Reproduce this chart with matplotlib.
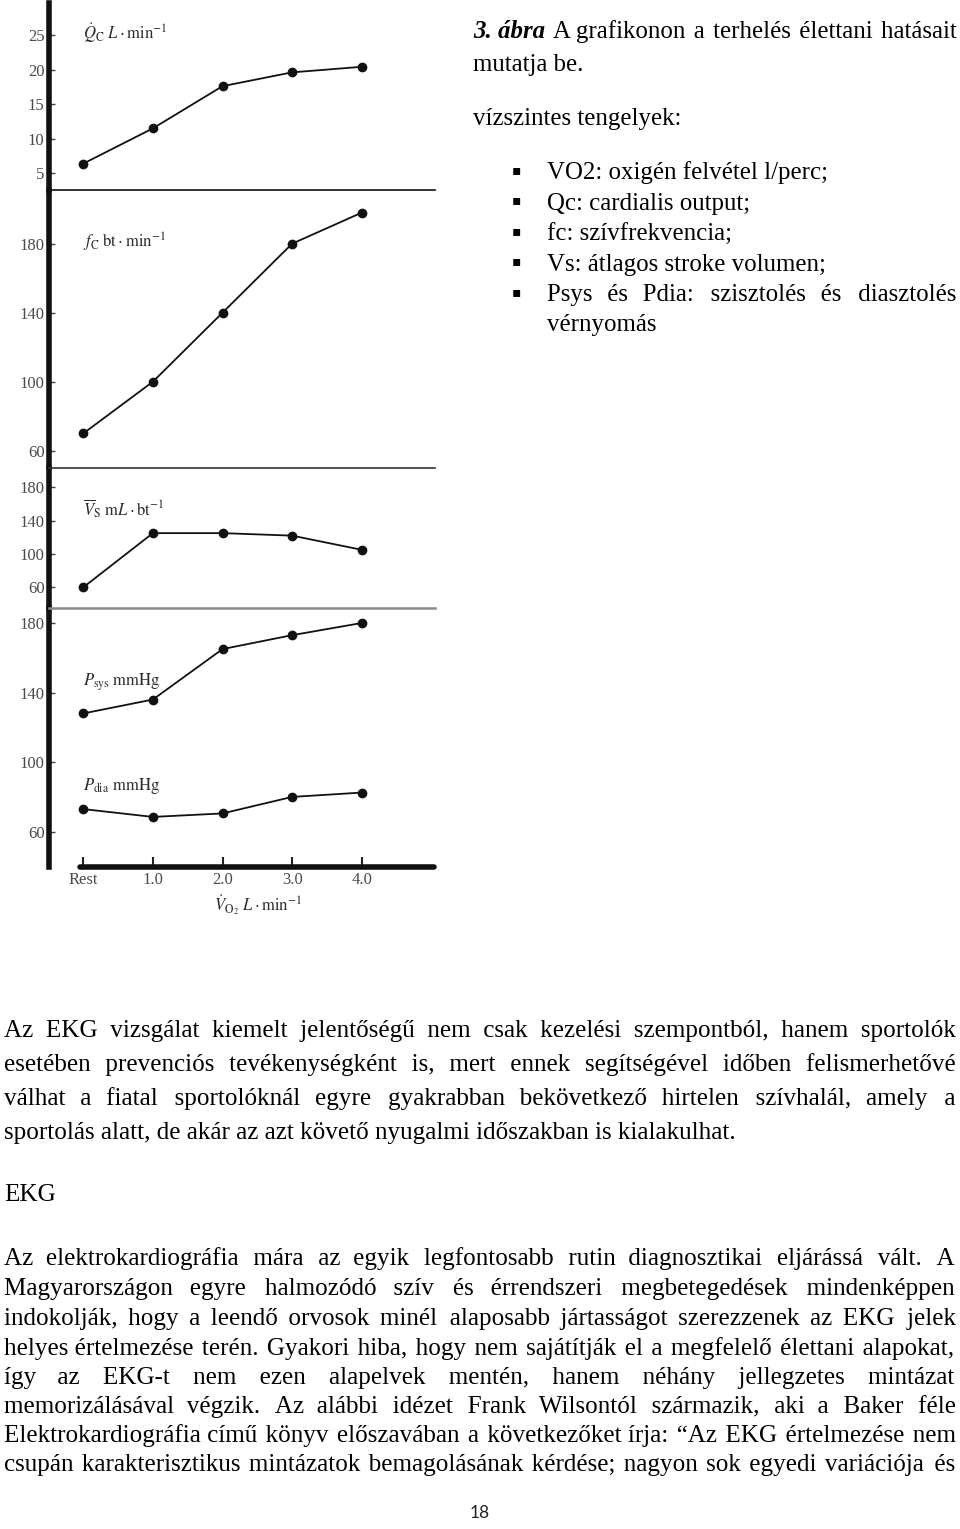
import matplotlib
matplotlib.use("Agg")
import matplotlib.pyplot as plt

plt.rcParams['font.family'] = ['Liberation Serif', 'DejaVu Serif']
plt.rcParams['mathtext.fontset'] = 'stix'

# ---------------- data ----------------
x_vals = [0, 1, 2, 3, 4]
x_labels = ['Rest', '1.0', '2.0', '3.0', '4.0']
qc = [6.4, 11.5, 17.6, 19.6, 20.4]
fc = [70, 100, 140, 180, 198]
vs = [60, 125, 125, 122, 105]
psys = [128, 136, 165, 173, 180]
pdia = [73, 68.5, 70.5, 80, 82.5]

qc_ticks = [5, 10, 15, 20, 25]
fc_ticks = [60, 100, 140, 180]
vs_ticks = [60, 100, 140, 180]
p_ticks = [60, 100, 140, 180]

qc_label = r'$\dot{Q}_{\rm C}\ \mathbf{\mathit{L}}\cdot{\rm min}^{-1}$'
fc_label = r'$f_{\rm C}\ {\rm bt}\cdot{\rm min}^{-1}$'
vs_label = r'$\overline{V}_{\rm S}\ {\rm m}\mathbf{\mathit{L}}\cdot{\rm bt}^{-1}$'
psys_label = r'$P_{\rm sys}\ {\rm mmHg}$'
pdia_label = r'$P_{\rm dia}\ {\rm mmHg}$'
x_axis_label = r'$\dot{V}_{\rm O_2}\ \mathbf{\mathit{L}}\cdot{\rm min}^{-1}$'

caption_bold = "3. ábra"
caption_rest = "A grafikonon a terhelés élettani hatásait"
caption_line2 = "mutatja be."
axes_heading = "vízszintes tengelyek:"
bullet_items = [
    "VO2: oxigén felvétel l/perc;",
    "Qc: cardialis output;",
    "fc: szívfrekvencia;",
    "Vs: átlagos stroke volumen;",
    "Psys és Pdia: szisztolés és diasztolés",
]
bullet_cont = "vérnyomás"

para1 = [
    "Az EKG vizsgálat kiemelt jelentőségű nem csak kezelési szempontból, hanem sportolók",
    "esetében prevenciós tevékenységként is, mert ennek segítségével időben felismerhetővé",
    "válhat a fiatal sportolóknál egyre gyakrabban bekövetkező hirtelen szívhalál, amely a",
    "sportolás alatt, de akár az azt követő nyugalmi időszakban is kialakulhat.",
]
heading = "EKG"
para2 = [
    "Az elektrokardiográfia mára az egyik legfontosabb rutin diagnosztikai eljárássá vált. A",
    "Magyarországon egyre halmozódó szív és érrendszeri megbetegedések mindenképpen",
    "indokolják, hogy a leendő orvosok minél alaposabb jártasságot szerezzenek az EKG jelek",
    "helyes értelmezése terén. Gyakori hiba, hogy nem sajátítják el a megfelelő élettani alapokat,",
    "így az EKG-t nem ezen alapelvek mentén, hanem néhány jellegzetes mintázat",
    "memorizálásával végzik. Az alábbi idézet Frank Wilsontól származik, aki a Baker féle",
    "Elektrokardiográfia című könyv előszavában a következőket írja: \u201cAz EKG értelmezése nem",
    "csupán karakterisztikus mintázatok bemagolásának kérdése; nagyon sok egyedi variációja és",
]
page_number = "18"

# ---------------- figure ----------------
W, H = 960, 1529
fig = plt.figure(figsize=(W / 100, H / 100), dpi=100)
fig.patch.set_facecolor('white')


def fx(x):
    return x / W


def fy(y):
    return 1 - y / H


def axes_px(l, t, r, b):
    return fig.add_axes([l / W, 1 - b / H, (r - l) / W, (b - t) / H])


AX_L, AX_R = 49.3, 435
XLIM = (-0.4885, 5.053)
tick_col = '#4a4a4a'
lab_col = '#2a2a2a'
CH_FS = 12

panels = [
    (3, 190, (2.585, 29.63), qc_ticks, [qc]),
    (190, 467.5, (50.26, 211.13), fc_ticks, [fc]),
    (467.5, 608, (35.16, 203.76), vs_ticks, [vs]),
    (608, 866.5, (39.99, 188.63), p_ticks, [psys, pdia]),
]
sep_colors = [None, '#111111', '#333333', '#8a8a8a']
sep_widths = [0, 1.2, 1.2, 1.8]

for i, (t, b, yl, ticks, series) in enumerate(panels):
    ax = axes_px(AX_L, t, AX_R, b)
    ax.set_facecolor('none')
    ax.set_xlim(*XLIM)
    ax.set_ylim(*yl)
    for s in series:
        ax.plot(x_vals, s, '-o', color='#111111', lw=1.3, ms=6, clip_on=False)
    ax.spines['right'].set_visible(False)
    ax.spines['left'].set_linewidth(4)
    ax.spines['left'].set_color('#111111')
    if i == 0:
        ax.spines['top'].set_visible(False)
    else:
        ax.spines['top'].set_color(sep_colors[i])
        ax.spines['top'].set_linewidth(sep_widths[i])
    ax.set_yticks(ticks)
    ax.tick_params(axis='y', direction='in', length=4, width=1, pad=3.5,
                   labelsize=CH_FS, labelcolor=tick_col, color='#444444')
    if i < 3:
        ax.spines['bottom'].set_visible(False)
        ax.tick_params(axis='x', bottom=False, labelbottom=False)
    else:
        ax.spines['bottom'].set_linewidth(4)
        ax.spines['bottom'].set_color('#111111')
        ax.spines['bottom'].set_capstyle('round')
        ax.spines['bottom'].set_bounds(-0.047, XLIM[1] - 0.02)
        ax.set_xticks(x_vals)
        ax.set_xticklabels(x_labels)
        ax.tick_params(axis='x', direction='in', length=7, width=1.5, pad=4,
                       labelsize=CH_FS, labelcolor=tick_col, color='#222222')
        ax.set_xlabel(x_axis_label, fontsize=CH_FS, color=lab_col, va='center')
        ax.xaxis.set_label_coords((258 - AX_L) / (AX_R - AX_L), (866.5 - 905) / (866.5 - 608))

for txt, y in [(qc_label, 39), (fc_label, 248), (vs_label, 516),
               (psys_label, 686), (pdia_label, 790)]:
    fig.text(fx(83), fy(y), txt, fontsize=CH_FS, color=lab_col, va='baseline', ha='left')

# ---------------- text block ----------------
renderer = fig.canvas.get_renderer()
FAM = ['Liberation Serif', 'DejaVu Serif']
HAIR = "\u200a"


def style_kw(st):
    kw = {}
    if 'b' in st:
        kw['fontweight'] = 'bold'
    if 'i' in st:
        kw['fontstyle'] = 'italic'
    return kw


def measure(s, fs, st=""):
    t = fig.text(0, 0, s, fontsize=fs, family=FAM, **style_kw(st))
    w = t.get_window_extent(renderer=renderer).width
    t.remove()
    return w


def build_justified(words, width, fs):
    hw = measure("a" + HAIR + "a", fs) - measure("aa", fs)
    unit = HAIR
    if hw < 0.5:
        unit = "\u2009"
        hw = measure("a" + unit + "a", fs) - measure("aa", fs)
    gaps = len(words) - 1
    extra = (width - measure(" ".join(words), fs)) / hw
    n_units = max(0, int(round(extra)))
    s = " ".join(words)
    for _ in range(3):
        parts = [words[0]]
        for g in range(gaps):
            k = (g + 1) * n_units // gaps - g * n_units // gaps
            parts.append(" " + unit * k + words[g + 1])
        s = "".join(parts)
        diff = (width - measure(s, fs)) / hw
        if abs(diff) < 0.5:
            break
        n_units = max(0, n_units + int(round(diff)))
    return s


def put_line(text, x0, x1, y, fs, justify=True, st=""):
    words = text.split(" ")
    s = build_justified(words, x1 - x0, fs) if (justify and len(words) > 1) else text
    fig.text(fx(x0), fy(y), s, fontsize=fs, family=FAM, va='baseline',
             ha='left', color='black', **style_kw(st))


fs_r = 15 * 282 / measure(bullet_items[0], 15)
fs_b = 15 * 736 / measure(para1[3], 15)

# caption first line: bold italic lead + justified remainder
rest_words = caption_rest.split(" ")
wb = measure(caption_bold, fs_r, "bi")
ws = sum(measure(w, fs_r) for w in rest_words)
g = (957 - 473 - wb - ws) / len(rest_words)
fig.text(fx(473), fy(38), caption_bold, fontsize=fs_r, family=FAM, va='baseline',
         ha='left', color='black', fontweight='bold', fontstyle='italic')
put_line(caption_rest, 473 + wb + g, 957, 38, fs_r, True)
put_line(caption_line2, 473, 957, 71, fs_r, False)
put_line(axes_heading, 473, 957, 125, fs_r, False)

bullet_y = [179.5, 210, 240.5, 271, 301.5]
for i, (item, y) in enumerate(zip(bullet_items, bullet_y)):
    fig.text(fx(516.5), fy(y - 9.5), "\u25aa", fontsize=10,
             family='DejaVu Sans', ha='center', va='center', color='black')
    put_line(item, 547.3, 957, y, fs_r, justify=(i == 4))
put_line(bullet_cont, 547.3, 957, 331, fs_r, False)

p1_y = [1037, 1071.5, 1105, 1138.5]
for i, (ln, y) in enumerate(zip(para1, p1_y)):
    put_line(ln, 4, 955, y, fs_b, justify=(i < len(para1) - 1))

put_line(heading, 4, 955, 1201, fs_b, False)

p2_y = [1265.5, 1295.5, 1325.5, 1355, 1384, 1413, 1442, 1470.5]
for ln, y in zip(para2, p2_y):
    put_line(ln, 4, 955, y, fs_b, True)

fig.text(fx(480), fy(1518.3), page_number, fontsize=12.5, family='Lato',
         ha='center', va='baseline', color='#222222')

fig.savefig("out.png", dpi=100, facecolor='white')
